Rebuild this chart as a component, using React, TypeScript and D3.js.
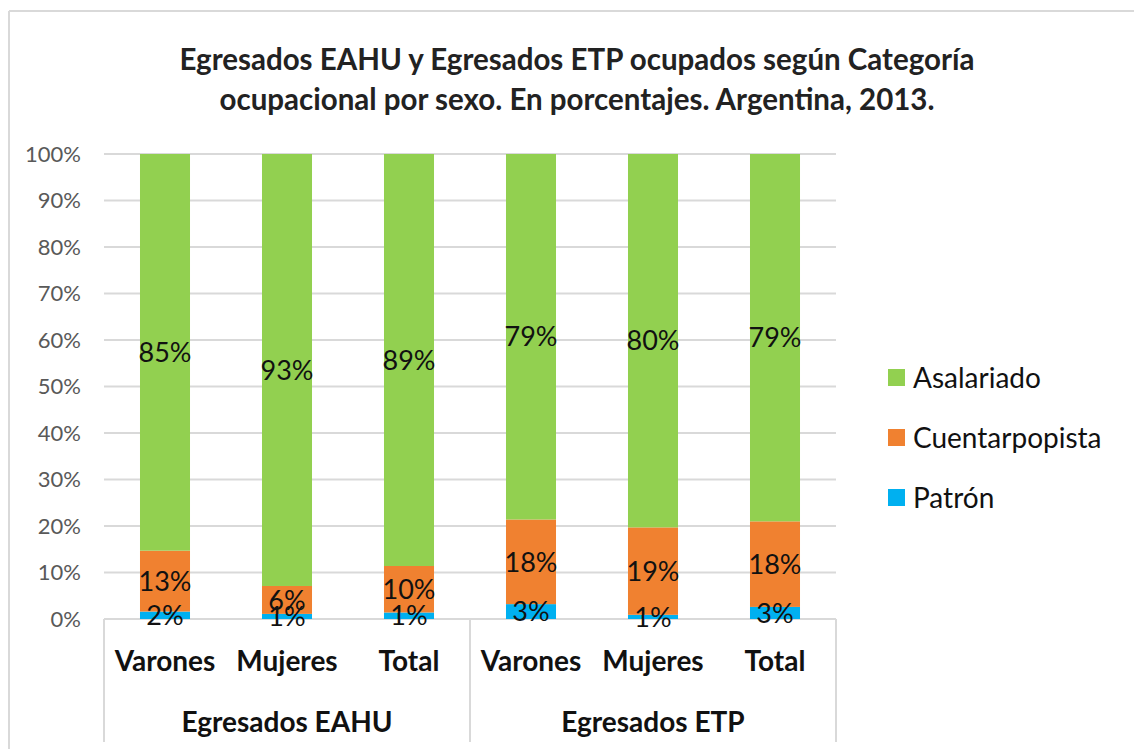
import React from "react";
import * as d3 from "d3";

// categories (two groups of three)
const groups = ["Egresados EAHU", "Egresados ETP"];
const categories = ["Varones", "Mujeres", "Total", "Varones", "Mujeres", "Total"];

// series values (share of occupied, 0-1)
const patron = [0.016, 0.011, 0.014, 0.032, 0.009, 0.026];
const cuentapropista = [0.131, 0.06, 0.1, 0.182, 0.188, 0.184];
const asalariado = [0.853, 0.929, 0.886, 0.786, 0.803, 0.79];

const seriesNames = ["Patrón", "Cuentarpopista", "Asalariado"];
const seriesColors = ["#00b0f0", "#f08130", "#92d050"];
const legendOrder = [2, 1, 0];

const yTicks = [0, 0.1, 0.2, 0.3, 0.4, 0.5, 0.6, 0.7, 0.8, 0.9, 1];

const titleLines = [
  "Egresados EAHU y Egresados ETP ocupados según Categoría",
  "ocupacional  por sexo. En porcentajes. Argentina, 2013.",
];

const W = 1134;
const H = 749;
const font = "Lato, 'Open Sans', sans-serif";

export default function App() {
  const plot = { left: 104, right: 836, top: 154, bottom: 619 };

  const x = d3
    .scaleBand<number>()
    .domain(categories.map((_, i) => i))
    .range([plot.left, plot.right])
    .paddingInner(0.59)
    .paddingOuter(0.295);

  const y = d3.scaleLinear().domain([0, 1]).range([plot.bottom, plot.top]);

  const rows = categories.map((c, i) => ({
    i,
    Patrón: patron[i],
    Cuentarpopista: cuentapropista[i],
    Asalariado: asalariado[i],
  }));
  const stacked = d3.stack<any>().keys(seriesNames)(rows);

  const fmt = d3.format(".0%");
  const step = x.step();
  // group boundaries
  const bounds = [0, 3, 6].map((k) => plot.left + k * step);

  return (
    <svg
      width={W}
      height={H}
      style={{ position: "absolute", left: 0, top: 0, background: "#fff" }}
      fontFamily={font}
    >
      {/* chart frame */}
      <line x1={9} x2={W} y1={11} y2={11} stroke="#d9d9d9" strokeWidth={2} />
      <line x1={9} x2={9} y1={11} y2={H} stroke="#d9d9d9" strokeWidth={2} />

      {/* title */}
      {titleLines.map((t, i) => (
        <text
          key={i}
          x={577}
          y={60 + i * 40}
          dy="0.35em"
          textAnchor="middle"
          fontSize={29.5}
          fontWeight="bold"
          fill="#222"
        >
          {t}
        </text>
      ))}

      {/* gridlines and y ticks */}
      {yTicks.map((t) => (
        <g key={t}>
          <line
            x1={plot.left}
            x2={plot.right}
            y1={y(t)}
            y2={y(t)}
            stroke="#d9d9d9"
            strokeWidth={2}
          />
          <text
            x={81}
            y={y(t)}
            dy="0.35em"
            textAnchor="end"
            fontSize={22}
            fill="#595959"
          >
            {fmt(t)}
          </text>
        </g>
      ))}

      {/* bars */}
      {stacked.map((s, si) => (
        <g key={s.key} fill={seriesColors[si]}>
          {s.map((d, i) => (
            <rect
              key={i}
              x={x(i)}
              width={x.bandwidth()}
              y={y(d[1])}
              height={y(d[0]) - y(d[1])}
            />
          ))}
        </g>
      ))}

      {/* data labels */}
      {stacked.map((s) =>
        s.map((d, i) => (
          <text
            key={s.key + i}
            x={(x(i) as number) + x.bandwidth() / 2}
            y={(y(d[0]) + y(d[1])) / 2}
            dy="0.36em"
            textAnchor="middle"
            fontSize={27}
            fill="#111"
          >
            {fmt(d[1] - d[0])}
          </text>
        ))
      )}

      {/* category axis */}
      {bounds.map((b, i) => (
        <line
          key={i}
          x1={b}
          x2={b}
          y1={plot.bottom}
          y2={742}
          stroke="#d9d9d9"
          strokeWidth={2}
        />
      ))}
      {categories.map((c, i) => (
        <text
          key={i}
          x={(x(i) as number) + x.bandwidth() / 2}
          y={661}
          dy="0.35em"
          textAnchor="middle"
          fontSize={28}
          fontWeight="bold"
          fill="#111"
        >
          {c}
        </text>
      ))}
      {groups.map((g, gi) => (
        <text
          key={g}
          x={(bounds[gi] + bounds[gi + 1]) / 2}
          y={722}
          dy="0.35em"
          textAnchor="middle"
          fontSize={28}
          fontWeight="bold"
          fill="#111"
        >
          {g}
        </text>
      ))}

      {/* legend */}
      {legendOrder.map((si, k) => (
        <g key={si} transform={`translate(888,${378 + k * 60})`}>
          <rect x={0} y={-9} width={17} height={17} fill={seriesColors[si]} />
          <text x={25} y={0} dy="0.35em" fontSize={28} fill="#111">
            {seriesNames[si]}
          </text>
        </g>
      ))}
    </svg>
  );
}
